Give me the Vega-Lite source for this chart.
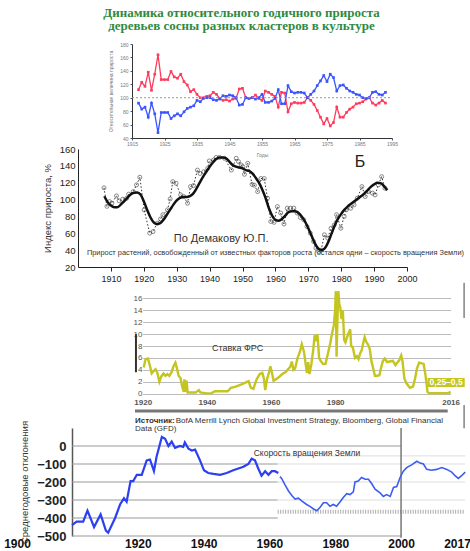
{
  "$schema": "https://vega.github.io/schema/vega-lite/v6.json",
  "padding": 0,
  "autosize": {"type": "pad"},
  "background": "white",
  "spacing": 0,
  "bounds": "flush",
  "config": {"view": {"stroke": null}, "axis": {"grid": false, "labelOverlap": false, "labelFlush": false, "labelFont": "Liberation Sans", "titleFont": "Liberation Sans"}, "font": "Liberation Sans"},
  "datasets": {
    "p1": [
      {"year":1917,"red":112,"blue":92},{"year":1918,"red":123,"blue":83},{"year":1919,"red":117,"blue":86},{"year":1920,"red":138,"blue":71},{"year":1921,"red":111,"blue":92},{"year":1922,"red":135,"blue":76},{"year":1923,"red":164,"blue":48},{"year":1924,"red":127,"blue":78},{"year":1925,"red":127,"blue":78},{"year":1926,"red":127,"blue":78},
      {"year":1927,"red":139,"blue":69},{"year":1928,"red":131,"blue":73},{"year":1929,"red":129,"blue":76},{"year":1930,"red":135,"blue":73},{"year":1931,"red":124,"blue":79},{"year":1932,"red":119,"blue":84},{"year":1933,"red":109,"blue":86},{"year":1934,"red":112,"blue":88},{"year":1935,"red":105,"blue":96},{"year":1936,"red":100,"blue":94},
      {"year":1937,"red":100,"blue":99},{"year":1938,"red":102,"blue":100},{"year":1939,"red":103,"blue":100},{"year":1940,"red":108,"blue":97},{"year":1941,"red":105,"blue":96},{"year":1942,"red":99,"blue":98},{"year":1943,"red":96,"blue":103},{"year":1944,"red":97,"blue":102},{"year":1945,"red":95,"blue":104},{"year":1946,"red":98,"blue":103},
      {"year":1947,"red":99,"blue":100},{"year":1948,"red":113,"blue":89},{"year":1949,"red":114,"blue":90},{"year":1950,"red":100,"blue":100},{"year":1951,"red":99,"blue":99},{"year":1952,"red":100,"blue":100},{"year":1953,"red":104,"blue":98},{"year":1954,"red":99,"blue":100},{"year":1955,"red":96,"blue":105},{"year":1956,"red":110,"blue":93},
      {"year":1957,"red":108,"blue":93},{"year":1958,"red":105,"blue":95},{"year":1959,"red":102,"blue":99},{"year":1960,"red":86,"blue":112},{"year":1961,"red":108,"blue":91},{"year":1962,"red":107,"blue":91},{"year":1963,"red":79,"blue":118},{"year":1964,"red":91,"blue":109},{"year":1965,"red":93,"blue":107},{"year":1966,"red":92,"blue":108},
      {"year":1967,"red":92,"blue":108},{"year":1968,"red":93,"blue":107},{"year":1969,"red":100,"blue":100},{"year":1970,"red":96,"blue":105},{"year":1971,"red":90,"blue":110},{"year":1972,"red":81,"blue":118},{"year":1973,"red":71,"blue":125},{"year":1974,"red":61,"blue":133},{"year":1975,"red":69,"blue":124},{"year":1976,"red":58,"blue":135},
      {"year":1977,"red":63,"blue":130},{"year":1978,"red":86,"blue":110},{"year":1979,"red":71,"blue":118},{"year":1980,"red":71,"blue":119},{"year":1981,"red":78,"blue":114},{"year":1982,"red":83,"blue":110},{"year":1983,"red":86,"blue":108},{"year":1984,"red":91,"blue":105},{"year":1985,"red":92,"blue":104},{"year":1986,"red":94,"blue":100},
      {"year":1987,"red":98,"blue":99},{"year":1988,"red":100,"blue":100},{"year":1989,"red":92,"blue":108},{"year":1990,"red":89,"blue":109},{"year":1991,"red":92,"blue":105},{"year":1992,"red":96,"blue":104},{"year":1993,"red":92,"blue":108}
    ],
    "p2dots": [
      {"year":1907.9,"value":114},{"year":1908.8,"value":92},{"year":1909.6,"value":97.6},{"year":1910.3,"value":95.7},{"year":1911.7,"value":104.4},{"year":1912.5,"value":98.5},{"year":1913.6,"value":100.4},{"year":1914.8,"value":101.6},{"year":1915.4,"value":106.4},{"year":1916.8,"value":109.5},
      {"year":1917.8,"value":117.4},{"year":1918.8,"value":126.5},{"year":1920.1,"value":87.8},{"year":1921.8,"value":60.2},{"year":1922.8,"value":62},{"year":1924.1,"value":72},{"year":1925.1,"value":77},{"year":1925.8,"value":82},{"year":1927.2,"value":87.8},{"year":1928,"value":100.8},
      {"year":1928.8,"value":121.3},{"year":1929.8,"value":119.4},{"year":1931.2,"value":105.6},{"year":1932.1,"value":103.6},{"year":1933.3,"value":95.7},{"year":1934.2,"value":115.4},{"year":1935.1,"value":116.6},{"year":1936.3,"value":135},{"year":1937.1,"value":131},{"year":1938.2,"value":133},
      {"year":1939.4,"value":137},{"year":1939.9,"value":145.8},{"year":1941.2,"value":147},{"year":1942,"value":150},{"year":1943,"value":150},{"year":1944.5,"value":149},{"year":1946.6,"value":135},{"year":1948.1,"value":149},{"year":1948.8,"value":145},{"year":1949.6,"value":141},
      {"year":1950.1,"value":139},{"year":1950.6,"value":130},{"year":1951.6,"value":143},{"year":1952.9,"value":118},{"year":1953.6,"value":117},{"year":1954.6,"value":109.5},{"year":1955.6,"value":125},{"year":1956.6,"value":125},{"year":1957.6,"value":101.6},{"year":1958.6,"value":74},
      {"year":1959.6,"value":73},{"year":1960.6,"value":91.7},{"year":1961.6,"value":84},{"year":1962.6,"value":71},{"year":1963.6,"value":89.8},{"year":1964.6,"value":89.8},{"year":1965.6,"value":89.8},{"year":1966.6,"value":84},{"year":1967.6,"value":78.7},{"year":1968.6,"value":76},
      {"year":1969.6,"value":68},{"year":1970.6,"value":60.2},{"year":1971.6,"value":50.3},{"year":1972.3,"value":42.5},{"year":1973.2,"value":38.5},{"year":1973.9,"value":40},{"year":1974.9,"value":58.2},{"year":1975.9,"value":54.3},{"year":1976.9,"value":66},{"year":1977.9,"value":70},
      {"year":1978.6,"value":82},{"year":1979.9,"value":66},{"year":1980.9,"value":80},{"year":1981.6,"value":88},{"year":1982.9,"value":89.8},{"year":1983.9,"value":93.7},{"year":1984.9,"value":101.6},{"year":1986.3,"value":115.4},{"year":1987.3,"value":103.6},{"year":1988.3,"value":109.5},
      {"year":1989.5,"value":107.6},{"year":1990.3,"value":105.6},{"year":1991.3,"value":117.4},{"year":1992.3,"value":127.2},{"year":1993.3,"value":113.5}
    ],
    "p2smooth": [
      {"year":1908,"value":104},{"year":1909,"value":97},{"year":1910,"value":93},{"year":1911,"value":91},{"year":1912,"value":91},{"year":1913,"value":94},{"year":1914,"value":98},{"year":1915,"value":102},{"year":1916,"value":106},{"year":1917,"value":108},
      {"year":1918,"value":108.5},{"year":1919,"value":106},{"year":1920,"value":98},{"year":1921,"value":88},{"year":1922,"value":79},{"year":1923,"value":73},{"year":1924,"value":71},{"year":1925,"value":72},{"year":1926,"value":76},{"year":1927,"value":82},
      {"year":1928,"value":88},{"year":1929,"value":94},{"year":1930,"value":99},{"year":1931,"value":102},{"year":1932,"value":103},{"year":1933,"value":103},{"year":1934,"value":104},{"year":1935,"value":107},{"year":1936,"value":113},{"year":1937,"value":120},
      {"year":1938,"value":127},{"year":1939,"value":133},{"year":1940,"value":139},{"year":1941,"value":144},{"year":1942,"value":148},{"year":1943,"value":150},{"year":1944,"value":150},{"year":1945,"value":149},{"year":1946,"value":145},{"year":1947,"value":141},
      {"year":1948,"value":139},{"year":1949,"value":138},{"year":1950,"value":137},{"year":1951,"value":135},{"year":1952,"value":134},{"year":1953,"value":131},{"year":1954,"value":126},{"year":1955,"value":120},{"year":1956,"value":112},{"year":1957,"value":102},
      {"year":1958,"value":90},{"year":1959,"value":81},{"year":1960,"value":76},{"year":1961,"value":75},{"year":1962,"value":77},{"year":1963,"value":81},{"year":1964,"value":85},{"year":1965,"value":86},{"year":1966,"value":86},{"year":1967,"value":84},
      {"year":1968,"value":80},{"year":1969,"value":74},{"year":1970,"value":66},{"year":1971,"value":57},{"year":1972,"value":48},{"year":1973,"value":42},{"year":1974,"value":40},{"year":1975,"value":42},{"year":1976,"value":49},{"year":1977,"value":59},
      {"year":1978,"value":69},{"year":1979,"value":77},{"year":1980,"value":83},{"year":1981,"value":88},{"year":1982,"value":92},{"year":1983,"value":95},{"year":1984,"value":98},{"year":1985,"value":101},{"year":1986,"value":104},{"year":1987,"value":107},
      {"year":1988,"value":111},{"year":1989,"value":115},{"year":1990,"value":118},{"year":1991,"value":120},{"year":1992,"value":119.5},{"year":1993,"value":116},{"year":1994,"value":111}
    ],
    "fed": [
      {"year":1920.3,"rate":4.4},{"year":1920.9,"rate":5.8},{"year":1921.6,"rate":5.9},{"year":1922.2,"rate":4.8},{"year":1922.8,"rate":3.4},{"year":1923.4,"rate":3.8},{"year":1924.0,"rate":4.1},{"year":1924.5,"rate":3.6},{"year":1925.2,"rate":2.0},{"year":1925.8,"rate":2.9},
      {"year":1926.5,"rate":3.4},{"year":1927.1,"rate":3.0},{"year":1927.7,"rate":3.3},{"year":1928.3,"rate":3.0},{"year":1929.0,"rate":3.6},{"year":1929.6,"rate":4.6},{"year":1930.2,"rate":5.2},{"year":1930.7,"rate":4.2},{"year":1931.2,"rate":3.0},{"year":1931.8,"rate":2.6},
      {"year":1932.3,"rate":1.2},{"year":1932.8,"rate":0.3},{"year":1933.0,"rate":2.4},{"year":1933.3,"rate":0.3},{"year":1933.7,"rate":2.2},{"year":1934.0,"rate":0.2},{"year":1935.0,"rate":0.2},{"year":1936.5,"rate":0.2},{"year":1937.5,"rate":0.6},{"year":1938.0,"rate":0.2},
      {"year":1940.0,"rate":0.05},{"year":1941.5,"rate":0.1},{"year":1942.5,"rate":0.4},{"year":1946.5,"rate":0.4},{"year":1947.5,"rate":1.0},{"year":1949.0,"rate":1.2},{"year":1951.0,"rate":1.6},{"year":1953.0,"rate":2.1},{"year":1953.7,"rate":1.0},{"year":1954.5,"rate":0.8},
      {"year":1955.5,"rate":2.4},{"year":1956.5,"rate":3.3},{"year":1957.3,"rate":3.5},{"year":1957.8,"rate":2.5},{"year":1958.2,"rate":0.6},{"year":1958.8,"rate":2.5},{"year":1959.5,"rate":3.8},{"year":1959.8,"rate":4.6},{"year":1960.3,"rate":3.5},{"year":1960.8,"rate":2.2},
      {"year":1961.5,"rate":2.4},{"year":1962.5,"rate":2.8},{"year":1963.5,"rate":3.3},{"year":1964.5,"rate":3.6},{"year":1965.3,"rate":4.1},{"year":1966.0,"rate":4.5},{"year":1966.5,"rate":5.4},{"year":1967.0,"rate":4.0},{"year":1967.5,"rate":4.2},{"year":1968.3,"rate":6.0},
      {"year":1969.0,"rate":7.0},{"year":1969.6,"rate":8.3},{"year":1970.3,"rate":7.0},{"year":1970.8,"rate":5.0},{"year":1971.2,"rate":3.5},{"year":1971.6,"rate":5.3},{"year":1972.0,"rate":3.3},{"year":1972.6,"rate":5.0},{"year":1973.2,"rate":7.5},{"year":1973.6,"rate":9.8},
      {"year":1974.0,"rate":8.8},{"year":1974.5,"rate":10.0},{"year":1975.0,"rate":6.0},{"year":1975.5,"rate":5.5},{"year":1976.2,"rate":5.0},{"year":1977.0,"rate":5.0},{"year":1977.7,"rate":6.6},{"year":1978.5,"rate":8.5},{"year":1979.0,"rate":10.0},{"year":1979.6,"rate":11.5},
      {"year":1980.0,"rate":14.0},{"year":1980.2,"rate":17.2},{"year":1980.45,"rate":6.2},{"year":1980.7,"rate":12.0},{"year":1981.0,"rate":17.2},{"year":1981.3,"rate":15.0},{"year":1981.6,"rate":14.5},{"year":1982.0,"rate":12.5},{"year":1982.4,"rate":14.0},{"year":1982.8,"rate":9.0},
      {"year":1983.2,"rate":8.6},{"year":1983.6,"rate":9.3},{"year":1984.2,"rate":10.2},{"year":1984.7,"rate":10.8},{"year":1985.0,"rate":8.0},{"year":1985.5,"rate":7.8},{"year":1986.2,"rate":6.0},{"year":1986.8,"rate":6.3},{"year":1987.3,"rate":5.8},{"year":1987.8,"rate":6.8},
      {"year":1988.3,"rate":7.3},{"year":1988.8,"rate":8.6},{"year":1989.2,"rate":9.5},{"year":1989.7,"rate":8.7},{"year":1990.3,"rate":8.2},{"year":1990.8,"rate":7.5},{"year":1991.3,"rate":5.5},{"year":1991.8,"rate":4.4},{"year":1992.4,"rate":3.0},{"year":1993.0,"rate":3.0},
      {"year":1993.8,"rate":3.1},{"year":1994.3,"rate":4.3},{"year":1994.9,"rate":5.5},{"year":1995.5,"rate":5.9},{"year":1996.2,"rate":5.3},{"year":1997.0,"rate":5.4},{"year":1998.0,"rate":5.5},{"year":1998.8,"rate":4.8},{"year":1999.5,"rate":5.3},{"year":2000.0,"rate":5.6},
      {"year":2000.6,"rate":6.4},{"year":2001.0,"rate":5.5},{"year":2001.6,"rate":2.5},{"year":2002.3,"rate":1.7},{"year":2003.3,"rate":1.0},{"year":2004.3,"rate":1.2},{"year":2004.9,"rate":2.5},{"year":2005.5,"rate":4.2},{"year":2006.2,"rate":5.2},{"year":2007.6,"rate":5.0},
      {"year":2008.2,"rate":3.0},{"year":2008.8,"rate":0.3},{"year":2009.3,"rate":0.1},{"year":2015.0,"rate":0.1},{"year":2015.6,"rate":0.15},{"year":2015.9,"rate":0.4}
    ],
    "lodA": [
      {"year":1900,"dev":-439},{"year":1901.4,"dev":-420},{"year":1903.4,"dev":-420},{"year":1904.7,"dev":-359},{"year":1906.7,"dev":-450},{"year":1908.7,"dev":-380},{"year":1910.3,"dev":-470},{"year":1911.0,"dev":-482},{"year":1913.1,"dev":-400},{"year":1914.6,"dev":-325},
      {"year":1915.8,"dev":-290},{"year":1916.6,"dev":-310},{"year":1917.8,"dev":-195},{"year":1918.6,"dev":-195},{"year":1919.7,"dev":-160},{"year":1921.2,"dev":-160},{"year":1922.7,"dev":-80},{"year":1923.7,"dev":-75},{"year":1924.9,"dev":-140},{"year":1925.7,"dev":-60},
      {"year":1927.3,"dev":50},{"year":1928.3,"dev":40},{"year":1929.3,"dev":0},{"year":1930.3,"dev":25},{"year":1931.3,"dev":-10},{"year":1932.8,"dev":0},{"year":1933.8,"dev":-5},{"year":1934.3,"dev":20},{"year":1935.4,"dev":-15},{"year":1936.4,"dev":-25},
      {"year":1937.4,"dev":-20},{"year":1938.9,"dev":-80},{"year":1940.1,"dev":-135},{"year":1941.4,"dev":-150},{"year":1943.0,"dev":-155},{"year":1945.0,"dev":-160},{"year":1947.0,"dev":-150},{"year":1949.0,"dev":-135},{"year":1952.1,"dev":-115},{"year":1953.6,"dev":-100},
      {"year":1954.6,"dev":-70},{"year":1955.6,"dev":-80},{"year":1956.6,"dev":-125},{"year":1957.6,"dev":-165},{"year":1958.7,"dev":-140},{"year":1959.7,"dev":-160},{"year":1960.7,"dev":-140},{"year":1961.7,"dev":-140},{"year":1962.7,"dev":-150}
    ],
    "lodB": [
      {"year":1963.2,"dev":-170},{"year":1963.7,"dev":-180},{"year":1964.7,"dev":-215},{"year":1965.8,"dev":-250},{"year":1966.8,"dev":-275},{"year":1967.8,"dev":-295},{"year":1968.8,"dev":-290},{"year":1969.8,"dev":-305},{"year":1971.3,"dev":-325},{"year":1972.3,"dev":-335},
      {"year":1973.4,"dev":-350},{"year":1974.4,"dev":-360},{"year":1975.4,"dev":-340},{"year":1976.4,"dev":-315},{"year":1977.4,"dev":-315},{"year":1978.4,"dev":-335},{"year":1979.4,"dev":-325},{"year":1980.4,"dev":-335},{"year":1981.5,"dev":-310},{"year":1982.5,"dev":-285},
      {"year":1983.5,"dev":-265},{"year":1984.5,"dev":-270},{"year":1985.5,"dev":-255},{"year":1986.0,"dev":-200},{"year":1987.0,"dev":-195},{"year":1988.0,"dev":-175},{"year":1989.1,"dev":-185},{"year":1990.1,"dev":-185},{"year":1991.1,"dev":-210},{"year":1992.1,"dev":-240},
      {"year":1993.6,"dev":-260},{"year":1994.6,"dev":-280},{"year":1995.6,"dev":-270},{"year":1996.7,"dev":-280},{"year":1997.7,"dev":-230},{"year":1998.7,"dev":-225},{"year":1999.7,"dev":-175},{"year":2000.7,"dev":-140},{"year":2001.7,"dev":-120},{"year":2003.2,"dev":-105},
      {"year":2004.8,"dev":-85},{"year":2005.8,"dev":-95},{"year":2006.8,"dev":-100},{"year":2007.8,"dev":-130},{"year":2009.3,"dev":-135},{"year":2010.8,"dev":-130},{"year":2012.4,"dev":-120},{"year":2013.9,"dev":-130},{"year":2015.4,"dev":-145},{"year":2016.4,"dev":-165},
      {"year":2017.4,"dev":-180},{"year":2018.4,"dev":-165},{"year":2019.5,"dev":-145}
    ],
    "gridDark": [{"lvl":-100},{"lvl":-200},{"lvl":-300},{"lvl":-400}],
    "gridLong": [{"lvl":0},{"lvl":-500}],
    "gridLight": [{"lvl":-55},{"lvl":-100},{"lvl":-200},{"lvl":-300}],
    "titleLines": [
      {"line":"Динамика относительного годичного прироста","ty":226.2},
      {"line":"деревьев сосны разных кластеров в культуре","ty":206.8}
    ]
  },
  "vconcat": [
    {
      "width": 470, "height": 138,
      "layer": [
        {
          "data": {"name": "p1"},
          "transform": [{"fold": ["red", "blue"], "as": ["series", "value"]}],
          "mark": {"type": "line", "strokeWidth": 1.3, "point": {"shape": "square", "size": 7, "filled": true}},
          "encoding": {
            "x": {"field": "year", "type": "quantitative", "scale": {"domain": [1915, 1995], "range": [132, 392], "nice": false, "zero": false},
                  "axis": {"values": [1915,1925,1935,1945,1955,1965,1975,1985,1995], "tickCount": 30, "format": "d", "labelFontSize": 5, "labelColor": "#777", "tickSize": 2, "tickColor": "#555", "domainColor": "#333", "labelPadding": 1, "title": "Годы", "titleFontSize": 5, "titleFontWeight": "normal", "titleColor": "#777", "titlePadding": 6}},
            "y": {"field": "value", "type": "quantitative", "scale": {"domain": [40, 180], "range": [138, 44], "nice": false, "zero": false},
                  "axis": {"values": [40,60,80,100,120,140,160,180], "tickCount": 30, "format": "d", "offset": -132, "labelFontSize": 5, "labelColor": "#777", "tickSize": 2, "tickColor": "#555", "domainColor": "#333", "labelPadding": 2, "title": "Относительная величина прироста", "titleFontSize": 5, "titleFontWeight": "normal", "titleColor": "#777", "titlePadding": 6}},
            "color": {"field": "series", "type": "nominal", "scale": {"domain": ["red", "blue"], "range": ["#ff3a5c", "#3a55ff"]}, "legend": null}
          }
        },
        {
          "data": {"values": [{}]},
          "mark": {"type": "rule", "strokeDash": [2, 2], "color": "#999", "strokeWidth": 1},
          "encoding": {"x": {"datum": 1915, "type": "quantitative"}, "x2": {"datum": 1995}, "y": {"datum": 100, "type": "quantitative"}}
        },
        {
          "data": {"name": "titleLines"},
          "mark": {"type": "text", "font": "Liberation Serif", "fontWeight": "bold", "fontSize": 13, "color": "#2f8a40", "align": "center", "baseline": "middle"},
          "encoding": {"x": {"datum": 1948.7, "type": "quantitative"}, "y": {"field": "ty", "type": "quantitative"}, "text": {"field": "line"}}
        }
      ]
    },
    {
      "width": 470, "height": 129,
      "layer": [
        {
          "data": {"name": "p2dots"},
          "mark": {"type": "line", "strokeDash": [1.5, 2], "strokeWidth": 1, "color": "#333"},
          "encoding": {
            "x": {"field": "year", "type": "quantitative", "scale": {"domain": [1900, 2000], "range": [78, 407], "nice": false, "zero": false},
                  "axis": {"values": [1910,1920,1930,1940,1950,1960,1970,1980,1990,2000], "tickCount": 30, "format": "d", "labelFontSize": 9, "labelColor": "#222", "tickSize": 4, "tickColor": "#222", "domainColor": "#222", "labelPadding": 3, "title": null}},
            "y": {"field": "value", "type": "quantitative", "scale": {"domain": [20, 160], "range": [129, 11], "nice": false, "zero": false},
                  "axis": {"values": [20,40,60,80,100,120,140,160], "tickCount": 30, "format": "d", "offset": -78, "labelFontSize": 9.5, "labelColor": "#222", "tickSize": 0, "domainColor": "#222", "labelPadding": 3, "title": "Индекс прироста, %", "titleFontSize": 9.5, "titleFontWeight": "normal", "titleColor": "#333", "titlePadding": 7}}
          }
        },
        {
          "data": {"name": "p2dots"},
          "mark": {"type": "point", "shape": "circle", "size": 16, "filled": false, "stroke": "#444", "strokeWidth": 0.9},
          "encoding": {"x": {"field": "year", "type": "quantitative"}, "y": {"field": "value", "type": "quantitative"}}
        },
        {
          "data": {"name": "p2smooth"},
          "mark": {"type": "line", "interpolate": "monotone", "strokeWidth": 2.5, "color": "#111"},
          "encoding": {"x": {"field": "year", "type": "quantitative"}, "y": {"field": "value", "type": "quantitative"}}
        },
        {
          "data": {"values": [{}]},
          "mark": {"type": "text", "text": "Б", "fontSize": 16, "color": "#222", "align": "center", "baseline": "middle"},
          "encoding": {"x": {"datum": 1985.7, "type": "quantitative"}, "y": {"datum": 144.6, "type": "quantitative"}}
        },
        {
          "data": {"values": [{}]},
          "mark": {"type": "text", "text": "По Демакову Ю.П.", "fontSize": 11, "color": "#333", "align": "center", "baseline": "middle"},
          "encoding": {"x": {"datum": 1943.5, "type": "quantitative"}, "y": {"datum": 53.5, "type": "quantitative"}}
        },
        {
          "data": {"values": [{}]},
          "mark": {"type": "text", "text": "Прирост растений, освобожденный от известных факторов роста (остался одни – скорость вращения Земли)", "fontSize": 7.4, "color": "#333", "align": "left", "baseline": "middle"},
          "encoding": {"x": {"datum": 1902.7, "type": "quantitative"}, "y": {"datum": 37, "type": "quantitative"}}
        }
      ]
    },
    {
      "width": 470, "height": 127,
      "layer": [
        {
          "data": {"name": "fed"},
          "mark": {"type": "line", "strokeWidth": 2.4, "color": "#c4c51e"},
          "encoding": {
            "x": {"field": "year", "type": "quantitative", "scale": {"domain": [1920, 2016], "range": [142.7, 450.6], "nice": false, "zero": false},
                  "axis": {"values": [1920,1940,1960,1980,2016], "tickCount": 30, "format": "d", "labelFontSize": 8, "labelFontWeight": "bold", "labelColor": "#555", "ticks": false, "domain": false, "labelPadding": 4, "title": null}},
            "y": {"field": "rate", "type": "quantitative", "scale": {"domain": [0, 16], "range": [126.7, 31.3], "nice": false, "zero": false},
                  "axis": {"values": [0,2,4,6,8,10,12,14,16], "tickCount": 30, "format": "d", "offset": -145, "grid": true, "gridColor": "#bbb", "gridWidth": 1, "domain": false, "ticks": false, "labelFontSize": 8, "labelColor": "#555", "labelPadding": 3, "title": null}}
          }
        },
        {
          "data": {"values": [{}]},
          "mark": {"type": "rect", "color": "#c6c620"},
          "encoding": {"x": {"datum": 2008.8, "type": "quantitative"}, "x2": {"datum": 2020.4}, "y": {"datum": 2.64, "type": "quantitative"}, "y2": {"datum": 1.13}}
        },
        {
          "data": {"values": [{}]},
          "mark": {"type": "text", "text": "0,25–0,5", "fontSize": 8.5, "fontWeight": "bold", "color": "white", "align": "center", "baseline": "middle"},
          "encoding": {"x": {"datum": 2014.6, "type": "quantitative"}, "y": {"datum": 1.88, "type": "quantitative"}}
        },
        {
          "data": {"values": [{}]},
          "mark": {"type": "text", "text": "Ставка ФРС", "fontSize": 9, "color": "#333", "align": "center", "baseline": "middle"},
          "encoding": {"x": {"datum": 1949.6, "type": "quantitative"}, "y": {"datum": 7.7, "type": "quantitative"}}
        },
        {
          "data": {"values": [{}]},
          "mark": {"type": "rule", "color": "#333", "strokeWidth": 2},
          "encoding": {"x": {"datum": 1917.9, "type": "quantitative"}, "y": {"datum": 3.6, "type": "quantitative"}, "y2": {"datum": 10}}
        },
        {
          "data": {"values": [{}]},
          "mark": {"type": "rule", "color": "#777", "strokeWidth": 3},
          "encoding": {"x": {"datum": 1917.6, "type": "quantitative"}, "x2": {"datum": 2015.1}, "y": {"datum": -2.9, "type": "quantitative"}}
        },
        {
          "data": {"values": [{"a": 18.6, "b": 12.7}, {"a": -1.9, "b": -5.8}]},
          "mark": {"type": "rule", "color": "#444", "strokeWidth": 1},
          "encoding": {"x": {"datum": 2020.2, "type": "quantitative"}, "y": {"field": "a", "type": "quantitative"}, "y2": {"field": "b"}}
        },
        {
          "data": {"values": [{}]},
          "mark": {"type": "text", "text": "Источник:", "fontSize": 8, "fontWeight": "bold", "color": "#333", "align": "left", "baseline": "middle"},
          "encoding": {"x": {"datum": 1917.6, "type": "quantitative"}, "y": {"datum": -4.5, "type": "quantitative"}}
        },
        {
          "data": {"values": [{}]},
          "mark": {"type": "text", "text": "BofA Merrill Lynch Global Investment Strategy, Bloomberg, Global Financial", "fontSize": 8, "color": "#333", "align": "left", "baseline": "middle"},
          "encoding": {"x": {"datum": 1930.3, "type": "quantitative"}, "y": {"datum": -4.5, "type": "quantitative"}}
        },
        {
          "data": {"values": [{}]},
          "mark": {"type": "text", "text": "Data (GFD)", "fontSize": 8, "color": "#333", "align": "left", "baseline": "middle"},
          "encoding": {"x": {"datum": 1917.6, "type": "quantitative"}, "y": {"datum": -5.9, "type": "quantitative"}}
        }
      ]
    },
    {
      "width": 470, "height": 142,
      "layer": [
        {
          "data": {"name": "gridDark"},
          "mark": {"type": "rule", "color": "#999", "strokeWidth": 1},
          "encoding": {
            "x": {"datum": 1900, "type": "quantitative", "scale": {"domain": [1900, 2017], "range": [72, 457], "nice": false, "zero": false},
                  "axis": {"values": [1900,1920,1940,1960,1980,2000,2017], "tickCount": 30, "format": "d", "labelFontSize": 12, "labelFontWeight": "bold", "labelColor": "#111", "ticks": false, "domain": false, "labelPadding": 2, "labelOffset": {"condition": {"test": "datum.value === 1900", "value": -55}, "value": 0}, "title": null}},
            "x2": {"datum": 1962.5},
            "y": {"field": "lvl", "type": "quantitative", "scale": {"domain": [-500, 100], "range": [142, 34], "nice": false, "zero": false},
                  "axis": {"values": [0,-100,-200,-300,-400,-500], "tickCount": 30, "format": "d", "offset": -72, "domainColor": "#555", "domainWidth": 1.5, "ticks": false, "labelFontSize": 13, "labelFontWeight": "bold", "labelColor": "#222", "labelPadding": 6, "title": "Среднегодовые отклонения", "titleFontSize": 9.5, "titleFontWeight": "normal", "titleColor": "#333", "titlePadding": 7}}
          }
        },
        {
          "data": {"name": "gridLong"},
          "mark": {"type": "rule", "color": "#999", "strokeWidth": 1},
          "encoding": {"x": {"datum": 1900, "type": "quantitative"}, "x2": {"datum": 2000}, "y": {"field": "lvl", "type": "quantitative"}}
        },
        {
          "data": {"name": "gridLight"},
          "mark": {"type": "rule", "color": "#ddd", "strokeWidth": 1},
          "encoding": {"x": {"datum": 1962.5, "type": "quantitative"}, "x2": {"datum": 2019.5}, "y": {"field": "lvl", "type": "quantitative"}}
        },
        {
          "data": {"values": [{}]},
          "mark": {"type": "rule", "color": "#aaa", "strokeWidth": 4, "strokeDash": [1, 1.5]},
          "encoding": {"x": {"datum": 1962.5, "type": "quantitative"}, "x2": {"datum": 2019.5}, "y": {"datum": -365, "type": "quantitative"}}
        },
        {
          "data": {"values": [{}]},
          "mark": {"type": "rule", "color": "#777", "strokeWidth": 1.5},
          "encoding": {"x": {"datum": 2000, "type": "quantitative"}, "y": {"datum": -510, "type": "quantitative"}, "y2": {"datum": 100}}
        },
        {
          "data": {"name": "lodA"},
          "mark": {"type": "line", "strokeWidth": 2.2, "color": "#2b40f0"},
          "encoding": {"x": {"field": "year", "type": "quantitative"}, "y": {"field": "dev", "type": "quantitative"}}
        },
        {
          "data": {"name": "lodB"},
          "mark": {"type": "line", "strokeWidth": 1.6, "color": "#3d5cf0"},
          "encoding": {"x": {"field": "year", "type": "quantitative"}, "y": {"field": "dev", "type": "quantitative"}}
        },
        {
          "data": {"values": [{}]},
          "mark": {"type": "text", "text": "Скорость вращения Земли", "fontSize": 8.5, "color": "#333", "align": "center", "baseline": "middle"},
          "encoding": {"x": {"datum": 1971.4, "type": "quantitative"}, "y": {"datum": -39, "type": "quantitative"}}
        }
      ]
    }
  ]
}
